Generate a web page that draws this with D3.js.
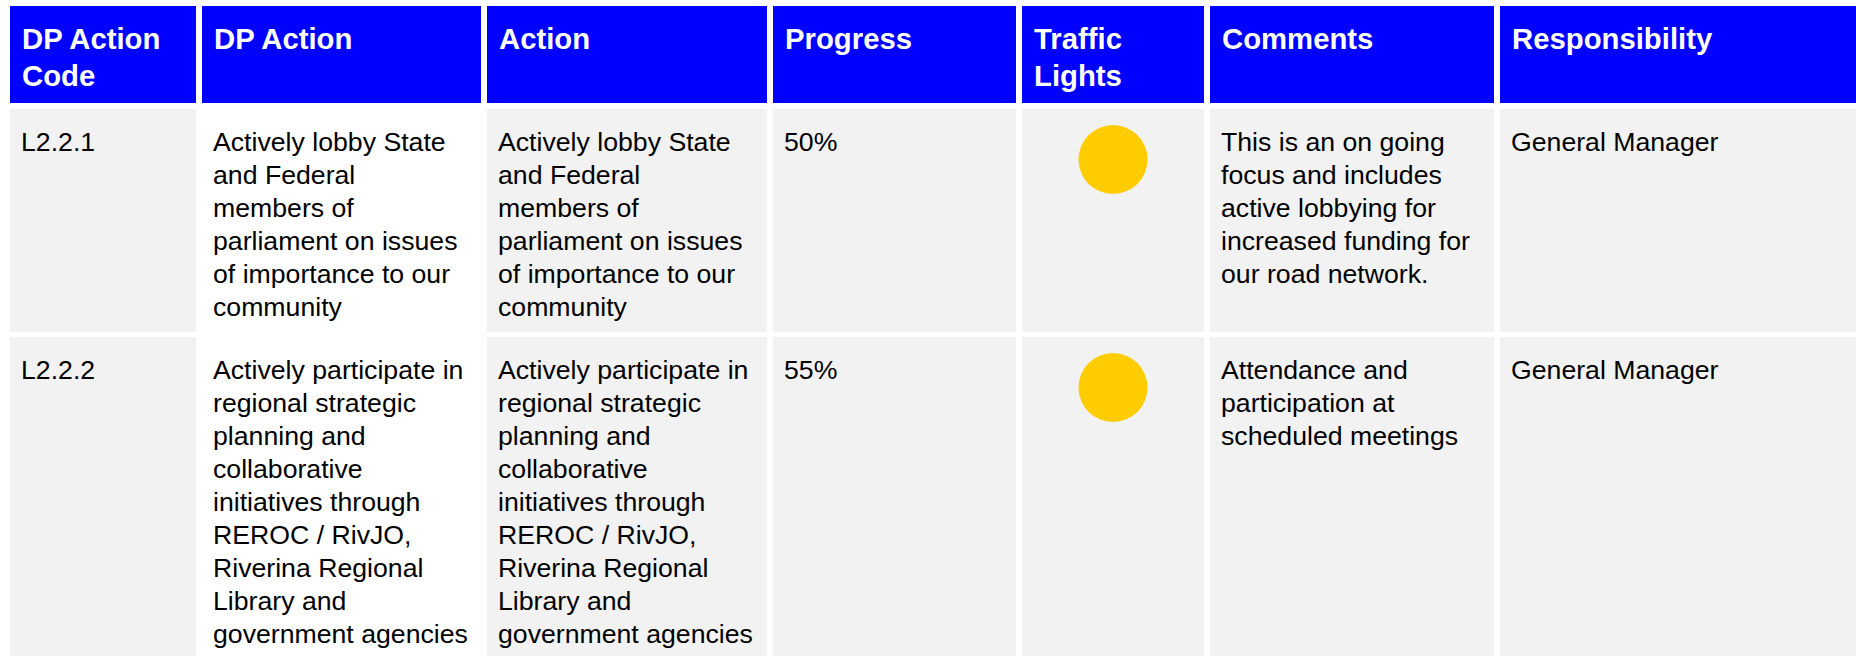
<!DOCTYPE html>
<html>
<head>
<meta charset="utf-8">
<script src="https://cdn.jsdelivr.net/npm/d3@7"></script>
<style>
  html, body { margin: 0; padding: 0; background: #ffffff; }
  svg { display: block; }
</style>
</head>
<body>
<svg id="chart" width="1856" height="656"></svg>
<script>
// ---- data ----
const headers = ["DP Action\nCode", "DP Action", "Action", "Progress", "Traffic\nLights", "Comments", "Responsibility"];
const codes = ["L2.2.1", "L2.2.2"];
const dpActions = [
  "Actively lobby State\nand Federal\nmembers of\nparliament on issues\nof importance to our\ncommunity",
  "Actively participate in\nregional strategic\nplanning and\ncollaborative\ninitiatives through\nREROC / RivJO,\nRiverina Regional\nLibrary and\ngovernment agencies"
];
const actions = [
  "Actively lobby State\nand Federal\nmembers of\nparliament on issues\nof importance to our\ncommunity",
  "Actively participate in\nregional strategic\nplanning and\ncollaborative\ninitiatives through\nREROC / RivJO,\nRiverina Regional\nLibrary and\ngovernment agencies"
];
const progress = [50, 55];
const trafficLights = ["amber", "amber"];
const comments = [
  "This is an on going\nfocus and includes\nactive lobbying for\nincreased funding for\nour road network.",
  "Attendance and\nparticipation at\nscheduled meetings"
];
const responsibility = ["General Manager", "General Manager"];

// ---- layout / style ----
const colEdges = [[10,196],[202,481],[487,767],[773,1016],[1022,1204],[1210,1494],[1500,1856]];
const rowEdges = [[6,103],[109,332],[337,656]];
const lightColor = { amber: "#FFCC00", green: "#00B050", red: "#FF0000" };
const font = "'Liberation Sans', Arial, Helvetica, sans-serif";

const svg = d3.select("#chart");

// build rows as arrays of cell values
const rows = codes.map((c, i) => [
  c, dpActions[i], actions[i], progress[i] + "%", trafficLights[i], comments[i], responsibility[i]
]);

// header
const hdr = svg.append("g");
headers.forEach((h, j) => {
  const [x0, x1] = colEdges[j];
  const [y0, y1] = rowEdges[0];
  hdr.append("rect").attr("x", x0).attr("y", y0).attr("width", x1 - x0).attr("height", y1 - y0).attr("fill", "#0000FF");
  const t = hdr.append("text")
    .attr("x", x0 + 12).attr("y", y0 + 43)
    .attr("fill", "#ffffff").attr("font-family", font)
    .attr("font-weight", "bold").attr("font-size", 29.3);
  h.split("\n").forEach((line, k) => {
    t.append("tspan").attr("x", x0 + 12).attr("dy", k === 0 ? 0 : 37).text(line);
  });
});

// body
rows.forEach((r, i) => {
  const [y0, y1] = rowEdges[i + 1];
  const g = svg.append("g");
  r.forEach((v, j) => {
    const [x0, x1] = colEdges[j];
    g.append("rect").attr("x", x0).attr("y", y0).attr("width", x1 - x0).attr("height", y1 - y0)
      .attr("fill", j === 1 ? "#FFFFFF" : "#F2F2F2");
    if (j === 4) {
      g.append("circle").attr("cx", (x0 + x1) / 2).attr("cy", y0 + 50.5).attr("r", 34.5)
        .attr("fill", lightColor[v]);
    } else {
      const t = g.append("text")
        .attr("x", x0 + 11).attr("y", y0 + 42)
        .attr("fill", "#000000").attr("font-family", font).attr("font-size", 26.67);
      String(v).split("\n").forEach((line, k) => {
        t.append("tspan").attr("x", x0 + 11).attr("dy", k === 0 ? 0 : 33).text(line);
      });
    }
  });
});
</script>
</body>
</html>
